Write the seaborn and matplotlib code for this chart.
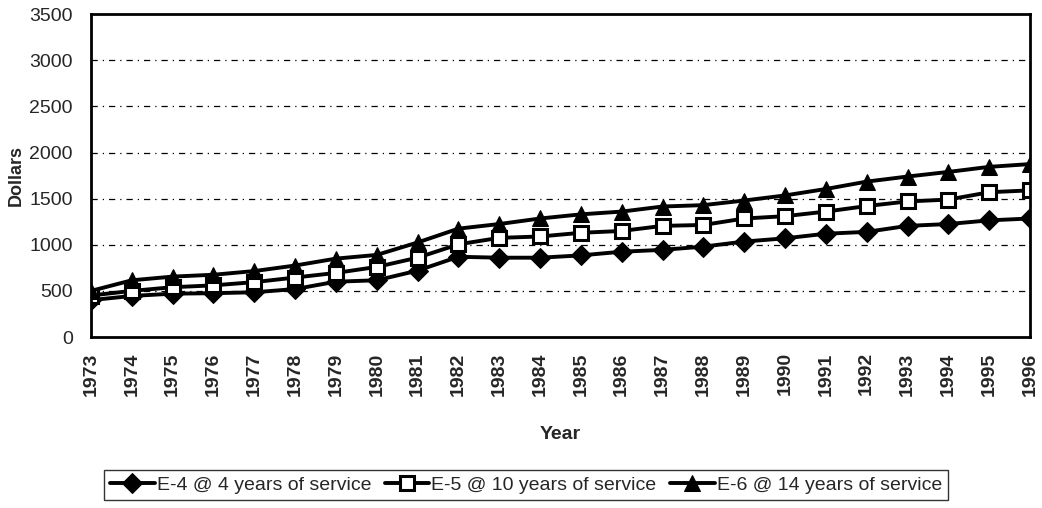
import pandas as pd
import matplotlib
matplotlib.use('Agg')
import matplotlib.pyplot as plt
import seaborn as sns

# %% data

years = list(range(1973, 1997))

e4 = [400, 445, 470, 475, 485, 520, 600, 615, 720, 870, 860, 860,
      885, 925, 945, 980, 1035, 1070, 1120, 1140, 1205, 1225, 1265, 1285]
e5 = [450, 500, 540, 560, 595, 645, 695, 760, 860, 1005, 1075, 1090,
      1130, 1150, 1205, 1215, 1285, 1310, 1360, 1420, 1470, 1490, 1570, 1590]
e6 = [500, 615, 655, 675, 715, 775, 850, 890, 1025, 1175, 1225, 1285,
      1330, 1360, 1415, 1430, 1480, 1535, 1605, 1685, 1740, 1790, 1845, 1875]

labels = ['E-4 @ 4 years of service',
          'E-5 @ 10 years of service',
          'E-6 @ 14 years of service']
yticks = [0, 500, 1000, 1500, 2000, 2500, 3000, 3500]

df = pd.DataFrame({'Year': years, 'E4': e4, 'E5': e5, 'E6': e6})

# %% plot

sns.set_style('white')
plt.rcParams['font.family'] = ['Liberation Sans', 'DejaVu Sans']

fig = plt.figure(figsize=(10.42, 5.08), dpi=100)
ax = fig.add_axes([0.0873, 0.3366, 0.9012, 0.6354])

sns.lineplot(data=df, x='Year', y='E4', ax=ax, color='k', linewidth=2.8,
             marker='D', markersize=10, markerfacecolor='k', markeredgecolor='k',
             label=labels[0])
sns.lineplot(data=df, x='Year', y='E5', ax=ax, color='k', linewidth=2.8,
             marker='s', markersize=10, markerfacecolor='white', markeredgecolor='k',
             markeredgewidth=2.2, label=labels[1])
sns.lineplot(data=df, x='Year', y='E6', ax=ax, color='k', linewidth=2.8,
             marker='^', markersize=12, markerfacecolor='k', markeredgecolor='k',
             label=labels[2])

ax.set_xlim(1973, 1996)
ax.set_ylim(0, 3500)
ax.set_xticks(years)
ax.set_xticklabels([str(y) for y in years], rotation=90, fontsize=14,
                   fontweight='bold')
ax.set_yticks(yticks)
ax.set_yticklabels([str(v) for v in yticks], fontsize=14)
ax.tick_params(axis='x', direction='inout', length=10, width=1, pad=6)
ax.tick_params(axis='y', direction='out', length=5, width=1, pad=8)

for v in yticks[1:-1]:
    ax.axhline(v, color='k', linewidth=0.9, linestyle=(0, (5, 4, 1, 4)), zorder=0)

for s in ax.spines.values():
    s.set_visible(True)
    s.set_color('k')
    s.set_linewidth(2)

ax.set_xlabel('Year', fontsize=14, fontweight='bold', labelpad=22)
ax.set_ylabel('Dollars', fontsize=13, fontweight='bold', labelpad=3)

ax.get_legend().remove()
h, l = ax.get_legend_handles_labels()
leg = fig.legend(h, l, loc='center', bbox_to_anchor=(526 / 1042, 1 - 485 / 508),
                 ncol=3, fontsize=14, frameon=True, fancybox=False,
                 edgecolor='k', handlelength=2.3, handletextpad=0.1,
                 columnspacing=0.7, borderpad=0.3)
leg.get_frame().set_linewidth(1)

plt.savefig('out.png', dpi=100)
